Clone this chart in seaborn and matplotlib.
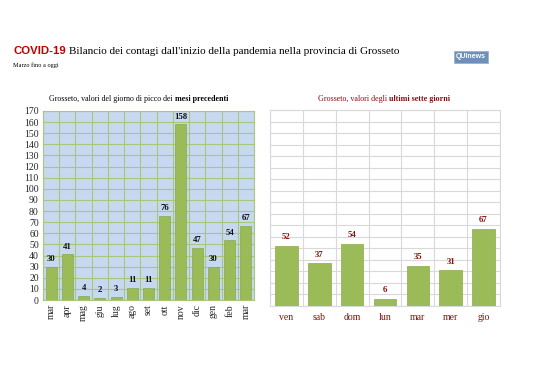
import matplotlib
matplotlib.use("Agg")
import matplotlib.pyplot as plt
import seaborn as sns
import numpy as np
from pandas import DataFrame

# data
months = ['mar', 'apr', 'mag', 'giu', 'lug', 'ago', 'set', 'ott', 'nov', 'dic', 'gen', 'feb', 'mar']
month_keys = ['mar20', 'apr20', 'mag20', 'giu20', 'lug20', 'ago20', 'set20', 'ott20', 'nov20',
              'dic20', 'gen21', 'feb21', 'mar21']
peak_values = [30, 41, 4, 2, 3, 11, 11, 76, 158, 47, 30, 54, 67]

days = ['ven', 'sab', 'dom', 'lun', 'mar', 'mer', 'gio']
last_week = [52, 37, 54, 6, 35, 31, 67]

sns.set_style("white")
plt.rcParams['font.family'] = ['Liberation Serif', 'DejaVu Serif']

green = '#9bbb59'
red = '#c00000'
darkred = '#8b0d0d'

fig = plt.figure(figsize=(5.38, 3.8), dpi=100)
fig.patch.set_facecolor('white')


def two_part(fig, x, y, a, b, size, color, ha='center'):
    # text with a bold tail
    t1 = fig.text(0, y, a, fontsize=size, color=color, va='baseline')
    t2 = fig.text(0, y, b, fontsize=size, color=color, va='baseline', fontweight='bold')
    fig.canvas.draw()
    r = fig.canvas.get_renderer()
    w1 = t1.get_window_extent(r).width / fig.bbox.width
    w2 = t2.get_window_extent(r).width / fig.bbox.width
    x0 = x - (w1 + w2) / 2 if ha == 'center' else x
    t1.set_x(x0)
    t2.set_x(x0 + w1)
    return x0 + w1 + w2


# header
ttl = fig.text(13 / 538, 1 - 54 / 380, 'COVID-19', fontsize=8.2, color=red, fontweight='bold',
               family=['Liberation Sans', 'DejaVu Sans'], va='baseline')
fig.canvas.draw()
wt = ttl.get_window_extent(fig.canvas.get_renderer()).width / fig.bbox.width
fig.text(13 / 538 + wt + 0.006, 1 - 54 / 380,
         "Bilancio dei contagi dall'inizio della pandemia nella provincia di Grosseto",
         fontsize=8.0, color='black', va='baseline')
fig.text(13 / 538, 1 - 67 / 380, 'Marzo fino a oggi', fontsize=4.5, color='black', va='baseline')

fig.text(471 / 538, 1 - 57 / 380, 'QUInews', fontsize=5, color='white', fontweight='bold',
         family=['Liberation Sans', 'DejaVu Sans'], ha='center', va='center',
         bbox=dict(boxstyle='square,pad=0.3', facecolor='#6d8fb8', edgecolor='#9ab0cc', lw=0.5))

# left chart: peak day of previous months
ax1 = fig.add_axes([43 / 538, 1 - 300 / 380, 211 / 538, 189 / 380])
df1 = DataFrame({'mese': month_keys, 'casi': peak_values})
sns.barplot(data=df1, x='mese', y='casi', order=month_keys, color=green, saturation=1,
            width=0.68, edgecolor='#8aaa4c', linewidth=0.5, ax=ax1, zorder=3)
ax1.set_facecolor('#c6d9f1')
ax1.set_ylim(0, 170)
ax1.set_xlim(-0.5, len(months) - 0.5)
ax1.set_yticks(np.arange(0, 171, 10))
ax1.set_xticks(range(len(months)))
ax1.set_xticklabels(months, rotation=90, fontsize=7)
ax1.tick_params(axis='y', labelsize=7, length=0, pad=3)
ax1.tick_params(axis='x', length=0, pad=3)
ax1.set_xticks(np.arange(-0.5, len(months), 1), minor=True)
ax1.grid(True, axis='y', which='major', color='#a9c77a', lw=0.8, zorder=0)
ax1.grid(True, axis='x', which='minor', color='#a9c77a', lw=0.8, zorder=0)
ax1.set_axisbelow(True)
for s in ax1.spines.values():
    s.set_color('#a9c77a')
    s.set_linewidth(0.8)
ax1.set_xlabel('')
ax1.set_ylabel('')
for i, v in enumerate(peak_values):
    ax1.text(i, v + 3, str(v), ha='center', va='bottom', fontsize=6.3, fontweight='bold', color='#111111')

two_part(fig, 139 / 538, 1 - 101 / 380, 'Grosseto, valori del giorno di picco dei ', 'mesi precedenti',
         5.7, 'black')

# right chart: last seven days
ax2 = fig.add_axes([270 / 538, 1 - 306 / 380, 230 / 538, 196 / 380])
df2 = DataFrame({'giorno': days, 'casi': last_week})
sns.barplot(data=df2, x='giorno', y='casi', order=days, color=green, saturation=1,
            width=0.69, edgecolor='#8aaa4c', linewidth=0.5, ax=ax2, zorder=3)
ax2.set_facecolor('white')
ax2.set_ylim(0, 170)
ax2.set_xlim(-0.5, len(days) - 0.5)
ax2.set_yticks(np.arange(0, 171, 10))
ax2.set_yticklabels([])
ax2.set_xticks(range(len(days)))
ax2.set_xticklabels(days, fontsize=7, color=darkred)
ax2.tick_params(length=0, pad=5)
ax2.set_xticks(np.arange(-0.5, len(days), 1), minor=True)
ax2.grid(True, axis='y', which='major', color='#d9d9d9', lw=0.8, zorder=0)
ax2.grid(True, axis='x', which='minor', color='#d9d9d9', lw=0.8, zorder=0)
ax2.set_axisbelow(True)
for s in ax2.spines.values():
    s.set_color('#d9d9d9')
    s.set_linewidth(0.8)
ax2.set_xlabel('')
ax2.set_ylabel('')
for i, v in enumerate(last_week):
    ax2.text(i, v + 4, str(v), ha='center', va='bottom', fontsize=6.3, fontweight='bold', color=darkred)

two_part(fig, 384 / 538, 1 - 101 / 380, 'Grosseto, valori degli ', 'ultimi sette giorni', 5.8, darkred)

fig.savefig('out.png', dpi=100, facecolor='white')
